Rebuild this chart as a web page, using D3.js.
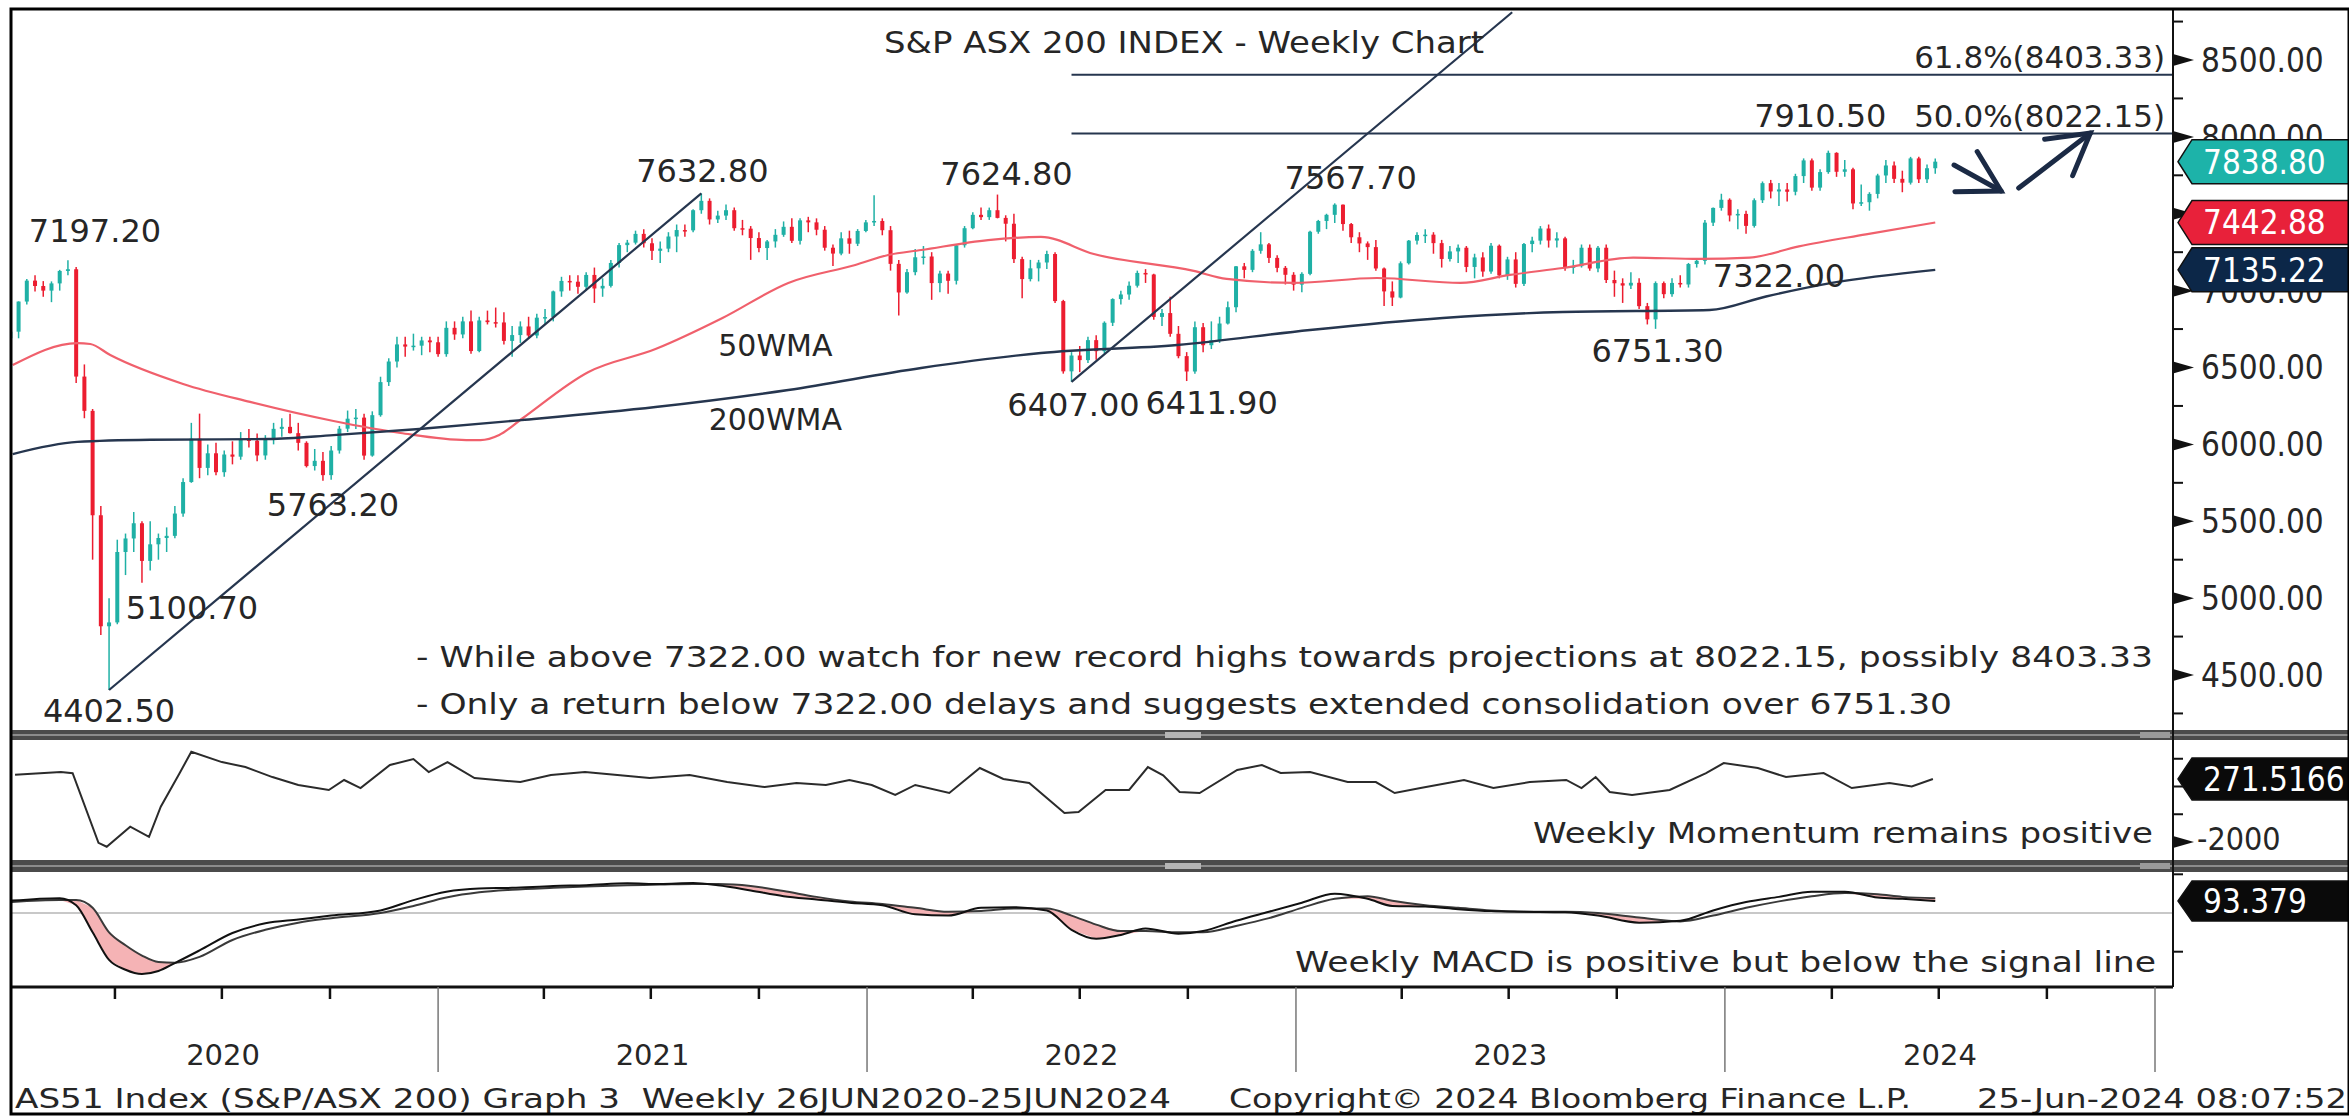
<!DOCTYPE html>
<html lang="en">
<head>
<meta charset="UTF-8">
<title>S&P ASX 200 INDEX - Weekly Chart</title>
<script src="https://d3js.org/d3.v7.min.js"></script>
<style>
  body { margin: 0; background: #fff; }
  svg { display: block; }
  text { font-family: "DejaVu Sans", Verdana, sans-serif; fill: #262626; white-space: pre; }
  text.cond { font-family: "DejaVu Sans Condensed", "Liberation Sans", sans-serif; }
</style>
</head>
<body>
<svg id="chart" width="2349" height="1118"></svg>
<script>
// weekly bars: [week ending, open, high, low, close]
const bars2020 = [
  ["2020-01-03",6690,6740,6680,6733],["2020-01-10",6733,6930,6690,6929],["2020-01-17",6929,7075,6910,7065],
  ["2020-01-24",7065,7100,6995,7030],["2020-01-31",7030,7062,6960,7000],["2020-02-07",7000,7060,6925,7047],
  ["2020-02-14",7047,7135,7000,7128],["2020-02-21",7128,7197.2,7100,7139],["2020-02-28",7139,7153,6400,6441],
  ["2020-03-06",6441,6520,6170,6218],["2020-03-13",6218,6230,5250,5539],["2020-03-20",5539,5600,4760,4817],
  ["2020-03-27",4817,5000,4402.5,4842],["2020-04-03",4842,5380,4830,5300],["2020-04-10",5300,5420,5150,5388],
  ["2020-04-17",5388,5560,5300,5487],["2020-04-24",5487,5500,5100.7,5242],["2020-05-01",5242,5500,5180,5350],
  ["2020-05-08",5350,5420,5250,5391],["2020-05-15",5391,5460,5300,5405],["2020-05-22",5405,5600,5390,5550],
  ["2020-05-29",5550,5780,5530,5755],["2020-06-05",5755,6140,5750,6037],["2020-06-12",6037,6200,5780,5847],
  ["2020-06-19",5847,6000,5800,5942],["2020-06-26",5942,6010,5800,5819],["2020-07-03",5819,5960,5790,5934],
  ["2020-07-10",5934,6020,5870,5920],["2020-07-17",5920,6080,5900,6032],["2020-07-24",6032,6100,5980,6024],
  ["2020-07-31",6024,6070,5890,5928],["2020-08-07",5928,6060,5900,6029],["2020-08-14",6029,6140,6000,6101],
  ["2020-08-21",6101,6170,6050,6114],["2020-08-28",6114,6200,6070,6073],["2020-09-04",6073,6140,5960,6010],
  ["2020-09-11",6010,6020,5850,5859],["2020-09-18",5859,5970,5830,5893],["2020-09-25",5893,5950,5763.2,5800],
  ["2020-10-02",5800,5990,5770,5960],["2020-10-09",5960,6120,5940,6102],["2020-10-16",6102,6220,6080,6167],
  ["2020-10-23",6167,6230,6100,6174],["2020-10-30",6174,6200,5900,5927],["2020-11-06",5927,6215,5920,6190],
  ["2020-11-13",6190,6440,6180,6405],["2020-11-20",6405,6560,6380,6539],["2020-11-27",6539,6700,6500,6650],
  ["2020-12-04",6650,6700,6570,6636],["2020-12-11",6636,6720,6610,6642],["2020-12-18",6642,6700,6580,6676],
  ["2020-12-25",6676,6700,6600,6664]
];
const bars2021 = [
  ["2021-01-01",6664,6700,6570,6587],["2021-01-08",6587,6800,6570,6758],["2021-01-15",6758,6800,6680,6715],
  ["2021-01-22",6715,6830,6690,6800],["2021-01-29",6800,6870,6590,6607],["2021-02-05",6607,6830,6600,6806],
  ["2021-02-12",6806,6870,6780,6795],["2021-02-19",6795,6890,6760,6793],["2021-02-26",6793,6860,6650,6673],
  ["2021-03-05",6673,6770,6570,6711],["2021-03-12",6711,6800,6660,6767],["2021-03-19",6767,6830,6690,6708],
  ["2021-03-26",6708,6850,6690,6824],["2021-04-02",6824,6880,6780,6828],["2021-04-09",6828,7000,6800,6995],
  ["2021-04-16",6995,7090,6960,7063],["2021-04-23",7063,7100,7000,7058],["2021-04-30",7058,7100,6980,7025],
  ["2021-05-07",7025,7120,7000,7102],["2021-05-14",7102,7150,6920,7014],["2021-05-21",7014,7080,6960,7031],
  ["2021-05-28",7031,7200,7020,7180],["2021-06-04",7180,7310,7150,7296],["2021-06-11",7296,7330,7250,7312],
  ["2021-06-18",7312,7390,7300,7369],["2021-06-25",7369,7400,7280,7308],["2021-07-02",7308,7340,7200,7259],
  ["2021-07-09",7259,7320,7180,7273],["2021-07-16",7273,7380,7250,7352],["2021-07-23",7352,7430,7250,7394],
  ["2021-07-30",7394,7430,7350,7392],["2021-08-06",7392,7530,7380,7523],["2021-08-13",7523,7632.8,7500,7584],
  ["2021-08-20",7584,7600,7430,7463],["2021-08-27",7463,7520,7440,7488],["2021-09-03",7488,7560,7460,7523],
  ["2021-09-10",7523,7540,7390,7406],["2021-09-17",7406,7460,7360,7403],["2021-09-24",7403,7420,7200,7342],
  ["2021-10-01",7342,7380,7250,7277],["2021-10-08",7277,7330,7200,7320],["2021-10-15",7320,7400,7280,7363],
  ["2021-10-22",7363,7450,7350,7415],["2021-10-29",7415,7470,7310,7324],["2021-11-05",7324,7470,7300,7457],
  ["2021-11-12",7457,7480,7380,7444],["2021-11-19",7444,7470,7360,7396],["2021-11-26",7396,7420,7260,7279],
  ["2021-12-03",7279,7300,7160,7241],["2021-12-10",7241,7380,7230,7340],["2021-12-17",7340,7390,7240,7305],
  ["2021-12-24",7305,7400,7290,7388],["2021-12-31",7388,7460,7380,7444]
];
const bars2022 = [
  ["2022-01-07",7444,7620,7420,7453],["2022-01-14",7453,7470,7360,7393],["2022-01-21",7393,7420,7130,7174],
  ["2022-01-28",7174,7200,6838,6988],["2022-02-04",6988,7140,6980,7120],["2022-02-11",7120,7270,7100,7217],
  ["2022-02-18",7217,7290,7170,7222],["2022-02-25",7222,7250,6940,7049],["2022-03-04",7049,7130,6990,7111],
  ["2022-03-11",7111,7130,6980,7064],["2022-03-18",7064,7300,7040,7295],["2022-03-25",7295,7420,7280,7406],
  ["2022-04-01",7406,7510,7400,7493],["2022-04-08",7493,7540,7460,7478],["2022-04-15",7478,7540,7460,7523],
  ["2022-04-22",7523,7624.8,7470,7473],["2022-04-29",7473,7490,7320,7435],["2022-05-06",7435,7500,7180,7205],
  ["2022-05-13",7205,7220,6950,7075],["2022-05-20",7075,7200,7060,7145],["2022-05-27",7145,7200,7060,7183],
  ["2022-06-03",7183,7260,7140,7238],["2022-06-10",7238,7250,6920,6932],["2022-06-17",6932,6940,6460,6475],
  ["2022-06-24",6475,6600,6407,6578],["2022-07-01",6578,6640,6470,6548],["2022-07-08",6548,6700,6530,6678],
  ["2022-07-15",6678,6710,6550,6606],["2022-07-22",6606,6800,6590,6791],["2022-07-29",6791,6950,6770,6945],
  ["2022-08-05",6945,7000,6910,6975],["2022-08-12",6975,7060,6940,7032],["2022-08-19",7032,7130,7020,7115],
  ["2022-08-26",7115,7140,7050,7105],["2022-09-02",7105,7110,6810,6829],["2022-09-09",6829,6880,6770,6854],
  ["2022-09-16",6854,6960,6700,6719],["2022-09-23",6719,6770,6560,6574],["2022-09-30",6574,6600,6411.9,6474],
  ["2022-10-07",6474,6800,6460,6762],["2022-10-14",6762,6790,6600,6645],["2022-10-21",6645,6800,6620,6677],
  ["2022-10-28",6677,6830,6660,6786],["2022-11-04",6786,6930,6780,6892],["2022-11-11",6892,7160,6860,7158],
  ["2022-11-18",7158,7180,7080,7135],["2022-11-25",7135,7270,7120,7259],["2022-12-02",7259,7380,7240,7301],
  ["2022-12-09",7301,7310,7180,7213],["2022-12-16",7213,7230,7120,7148],["2022-12-23",7148,7160,7040,7103],
  ["2022-12-30",7103,7120,7000,7039]
];
const bars2023 = [
  ["2023-01-06",7039,7120,6990,7109],["2023-01-13",7109,7390,7100,7383],["2023-01-20",7383,7460,7370,7453],
  ["2023-01-27",7453,7500,7400,7493],["2023-02-03",7493,7567.7,7440,7559],["2023-02-10",7559,7560,7390,7433],
  ["2023-02-17",7433,7440,7310,7347],["2023-02-24",7347,7380,7250,7307],["2023-03-03",7307,7320,7200,7283],
  ["2023-03-10",7283,7330,7130,7144],["2023-03-17",7144,7150,6900,6995],["2023-03-24",6995,7060,6900,6955],
  ["2023-03-31",6955,7190,6950,7178],["2023-04-07",7178,7330,7170,7325],["2023-04-14",7325,7380,7300,7362],
  ["2023-04-21",7362,7400,7310,7364],["2023-04-28",7364,7380,7240,7309],["2023-05-05",7309,7330,7150,7206],
  ["2023-05-12",7206,7290,7190,7255],["2023-05-19",7255,7300,7180,7279],["2023-05-26",7279,7290,7120,7154],
  ["2023-06-02",7154,7240,7080,7216],["2023-06-09",7216,7250,7090,7124],["2023-06-16",7124,7310,7110,7292],
  ["2023-06-23",7292,7300,7080,7099],["2023-06-30",7099,7220,7070,7203],["2023-07-07",7203,7250,7020,7044],
  ["2023-07-14",7044,7310,7030,7303],["2023-07-21",7303,7350,7250,7325],["2023-07-28",7325,7420,7300,7404],
  ["2023-08-04",7404,7430,7280,7326],["2023-08-11",7326,7380,7280,7340],["2023-08-18",7340,7350,7130,7148],
  ["2023-08-25",7148,7200,7110,7159],["2023-09-01",7159,7300,7150,7279],["2023-09-08",7279,7300,7130,7144],
  ["2023-09-15",7144,7290,7120,7279],["2023-09-22",7279,7300,7050,7069],["2023-09-29",7069,7130,6960,7048],
  ["2023-10-06",7048,7080,6920,7033],["2023-10-13",7033,7120,7010,7051],["2023-10-20",7051,7080,6880,6899],
  ["2023-10-27",6899,6920,6780,6813],["2023-11-03",6813,7060,6751.3,7049],["2023-11-10",7049,7060,6950,6977],
  ["2023-11-17",6977,7080,6960,7050],["2023-11-24",7050,7100,7020,7040],["2023-12-01",7040,7180,7020,7173],
  ["2023-12-08",7173,7210,7150,7194],["2023-12-15",7194,7460,7170,7442],["2023-12-22",7442,7540,7420,7538],
  ["2023-12-29",7538,7630,7520,7591]
];
const bars2024 = [
  ["2024-01-05",7591,7600,7450,7489],["2024-01-12",7489,7530,7400,7499],["2024-01-19",7499,7520,7370,7421],
  ["2024-01-26",7421,7600,7410,7588],["2024-02-02",7588,7710,7570,7699],["2024-02-09",7699,7720,7600,7645],
  ["2024-02-16",7645,7700,7550,7658],["2024-02-23",7658,7700,7580,7643],["2024-03-01",7643,7760,7620,7745],
  ["2024-03-08",7745,7860,7700,7847],["2024-03-15",7847,7860,7650,7670],["2024-03-22",7670,7790,7650,7771],
  ["2024-03-29",7771,7910.5,7760,7896],["2024-04-05",7896,7900,7740,7773],["2024-04-12",7773,7850,7740,7789],
  ["2024-04-19",7789,7800,7530,7567],["2024-04-26",7567,7690,7550,7575],["2024-05-03",7575,7640,7520,7629],
  ["2024-05-10",7629,7760,7600,7749],["2024-05-17",7749,7850,7700,7814],["2024-05-24",7814,7840,7700,7727],
  ["2024-05-31",7727,7780,7640,7702],["2024-06-07",7702,7870,7690,7860],["2024-06-14",7860,7870,7700,7724],
  ["2024-06-21",7724,7820,7700,7796],["2024-06-28",7796,7860,7760,7838.8]
];

// moving averages: [date, value]
const ma50 = [
  ["2020-01-05",6516],["2020-02-29",6659],["2020-03-11",6653],["2020-03-28",6581],["2020-05-29",6393],
  ["2020-07-25",6276],["2020-10-04",6152],["2020-11-30",6074],["2021-01-25",6028],["2021-02-06",6028],
  ["2021-02-22",6061],["2021-03-13",6165],["2021-05-09",6471],["2021-07-05",6620],["2021-08-31",6822],
  ["2021-10-26",7050],["2021-12-22",7167],["2022-01-19",7232],["2022-02-16",7264],["2022-04-14",7329],
  ["2022-05-29",7349],["2022-07-13",7238],["2022-10-06",7128],["2022-11-03",7076],["2022-12-30",7050],
  ["2023-03-11",7082],["2023-05-21",7050],["2023-07-02",7102],["2023-08-16",7147],["2023-10-15",7215],
  ["2023-12-10",7206],["2024-01-22",7215],["2024-03-04",7288],["2024-04-30",7366],["2024-06-28",7442.88]
];
const ma200 = [
  ["2020-01-05",5937],["2020-02-29",6016],["2020-05-01",6030],["2020-08-10",6035],["2020-10-04",6060],
  ["2020-12-16",6100],["2021-03-13",6158],["2021-07-05",6243],["2021-10-26",6354],["2022-02-16",6497],
  ["2022-05-29",6594],["2022-09-22",6646],["2023-01-13",6744],["2023-05-06",6822],["2023-08-16",6861],
  ["2023-12-19",6874],["2024-02-05",6962],["2024-04-01",7050],["2024-06-28",7135.22]
];

// weekly momentum: [date, value]
const momentum = [
  ["2020-01-07",420],["2020-02-15",520],["2020-02-25",480],["2020-03-18",-2030],["2020-03-25",-2170],
  ["2020-04-14",-1450],["2020-04-30",-1815],["2020-05-10",-730],["2020-05-26",480],["2020-06-05",1250],
  ["2020-07-01",880],["2020-07-21",700],["2020-08-13",340],["2020-09-04",55],["2020-09-30",-125],
  ["2020-10-13",235],["2020-10-27",-55],["2020-11-21",775],["2020-12-11",990],["2020-12-24",520],
  ["2021-01-09",880],["2021-02-01",305],["2021-03-12",160],["2021-04-07",415],["2021-05-06",520],
  ["2021-05-29",430],["2021-06-30",305],["2021-08-03",415],["2021-09-04",160],["2021-10-06",-20],
  ["2021-11-02",125],["2021-11-27",55],["2021-12-17",235],["2022-01-05",55],["2022-01-25",-305],
  ["2022-02-11",55],["2022-03-12",-235],["2022-04-07",665],["2022-04-27",270],["2022-05-19",125],
  ["2022-06-18",-955],["2022-06-30",-920],["2022-07-23",-125],["2022-08-12",-125],["2022-08-28",700],
  ["2022-09-10",400],["2022-09-24",-200],["2022-10-11",-235],["2022-11-12",595],["2022-12-03",775],
  ["2022-12-19",485],["2023-01-13",520],["2023-02-14",160],["2023-03-10",160],["2023-03-26",-235],
  ["2023-04-17",-55],["2023-05-24",235],["2023-06-18",-55],["2023-07-19",160],["2023-08-19",235],
  ["2023-09-01",-55],["2023-09-13",340],["2023-09-25",-200],["2023-10-14",-305],["2023-11-15",-125],
  ["2023-12-16",485],["2023-12-31",845],["2024-01-29",665],["2024-02-22",340],["2024-03-25",485],
  ["2024-04-18",-55],["2024-05-20",125],["2024-06-08",0],["2024-06-26",271.5166]
];

// weekly MACD: [date, macd, signal]
const macd = [
  ["2020-01-03",95,85],["2020-02-14",115,100],["2020-02-28",60,100],["2020-03-13",-150,40],
  ["2020-03-27",-364,-150],["2020-04-10",-440,-250],["2020-04-24",-473,-330],["2020-05-08",-450,-380],
  ["2020-05-22",-388,-385],["2020-06-12",-290,-340],["2020-07-10",-155,-209],["2020-08-07",-80,-130],
  ["2020-09-04",-50,-75],["2020-10-02",-20,-40],["2020-11-13",20,0],["2020-12-11",100,55],
  ["2021-01-08",165,120],["2021-02-05",190,160],["2021-03-05",195,180],["2021-04-09",210,195],
  ["2021-05-07",215,205],["2021-06-11",230,215],["2021-07-09",225,220],["2021-08-06",232,225],
  ["2021-08-27",215,225],["2021-09-24",175,210],["2021-10-22",130,170],["2021-11-19",105,125],
  ["2021-12-17",80,90],["2022-01-14",60,70],["2022-02-11",-10,40],["2022-03-11",-20,10],
  ["2022-04-08",40,15],["2022-05-06",45,35],["2022-06-03",20,35],["2022-06-24",-130,-20],
  ["2022-07-15",-200,-90],["2022-08-05",-170,-140],["2022-08-26",-120,-140],["2022-09-23",-160,-150],
  ["2022-10-14",-140,-150],["2022-11-11",-60,-100],["2022-12-09",10,-40],["2023-01-06",80,40],
  ["2023-02-03",150,110],["2023-03-03",110,130],["2023-03-24",55,95],["2023-04-21",50,60],
  ["2023-05-19",30,40],["2023-06-16",15,20],["2023-07-14",10,10],["2023-08-18",5,10],
  ["2023-09-15",-20,0],["2023-10-20",-75,-35],["2023-11-24",-60,-65],["2023-12-22",20,-20],
  ["2024-01-19",85,40],["2024-02-16",125,90],["2024-03-15",165,130],["2024-04-12",165,155],
  ["2024-05-10",120,145],["2024-05-31",110,125],["2024-06-28",93.379,115]
];

// trend line (swing low -> swing high) and the parallel projection from the 2022 low
const trendLine = [["2020-03-27",4402.5],["2021-08-13",7632.8]];
const projectionStart = ["2022-06-24",6407.0];
const projectionEndDate = "2023-07-04";
const fibLevels = [[8403.33,"61.8%(8403.33)"],[8022.15,"50.0%(8022.15)"]];

const priceLabels = [
  ["7197.20","2020-02-21",7197.2,27,-30],["7632.80","2021-08-13",7632.8,1,-23],
  ["7624.80","2022-04-22",7624.8,9,-21],["7567.70","2023-02-03",7567.7,16,-26],
  ["7910.50","2024-03-29",7910.5,-8,-35],["5763.20","2020-09-25",5763.2,10,24],
  ["5100.70","2020-04-24",5100.7,50,25],["4402.50","2020-03-27",4402.5,0,20],
  ["6407.00","2022-06-24",6407.0,2,23],["6411.90","2022-09-30",6411.9,25,21],
  ["6751.30","2023-11-03",6751.3,2,22],["7322.00","2024-02-16",7322.0,0,34]
];
const maLabels = [["50WMA","2021-10-15",6646],["200WMA","2021-10-15",6165]];
const arrows = [
  [["2024-07-14",7817],["2024-08-23",7648]],
  [["2024-09-07",7667],["2024-11-07",8025]]
];
const lastValues = [
  [7838.80,"7838.80","#1db3a9"],[7442.88,"7442.88","#e8213a"],[7135.22,"7135.22","#0c2748"]
];
const priceTicks = [4500,5000,5500,6000,6500,7000,7500,8000,8500];
const priceMinor = [4250,4750,5250,5750,6250,6750,7250,7750,8250,8750];
const momTicks = [1000,0,-1000];
const macdTicks = [300,-300];
const years = ["2020","2021","2022","2023","2024"];

// ---- layout ----
const W = 2349, H = 1118;
const plotL = 12, axisX = 2173;
const mainTop = 10, mainBot = 730, momTop = 740, momBot = 860, macdTop = 872, macdBot = 987;
const navy = "#26364f", teal = "#1fb0a5", red = "#ec1d30";

const parse = d3.timeParse("%Y-%m-%d");
const x = d3.scaleTime().domain([parse("2020-01-01"), parse("2025-01-01")]).range([8, 2155]);
const yP = d3.scaleLinear().domain([4500, 8500]).range([675, 60]);
const yM = d3.scaleLinear().domain([-2000, 0]).range([842, 786.5]);
const yD = d3.scaleLinear().domain([-500, 0]).range([977.5, 913]);

const bars = [...bars2020, ...bars2021, ...bars2022, ...bars2023, ...bars2024]
  .map(([d, o, h, l, c]) => ({ date: parse(d), o, h, l, c }));

const svg = d3.select("#chart");
const defs = svg.append("defs");
function addClip(id, y0, y1) {
  defs.append("clipPath").attr("id", id).append("rect")
    .attr("x", plotL).attr("y", y0).attr("width", axisX - plotL).attr("height", y1 - y0);
}
addClip("clipMain", mainTop, mainBot);
addClip("clipMom", momTop, momBot);
addClip("clipMacd", macdTop, macdBot);

defs.append("marker").attr("id", "head").attr("markerUnits", "userSpaceOnUse")
  .attr("viewBox", "-46 -28 52 56").attr("refX", 0).attr("refY", 0)
  .attr("markerWidth", 52).attr("markerHeight", 56).attr("orient", "auto")
  .append("path").attr("d", "M-40,-23 L0,0 L-40,23")
  .attr("fill", "none").attr("stroke", "#1b2a45").attr("stroke-width", 5).attr("stroke-linecap", "round");

svg.append("rect").attr("width", W).attr("height", H).attr("fill", "#fff");

// ---- main panel ----
const main = svg.append("g").attr("clip-path", "url(#clipMain)");

const candles = main.append("g").selectAll("g").data(bars).join("g");
candles.append("line")
  .attr("x1", d => x(d.date)).attr("x2", d => x(d.date))
  .attr("y1", d => yP(d.h)).attr("y2", d => yP(d.l))
  .attr("stroke", d => d.c >= d.o ? teal : red).attr("stroke-width", 1.5);
candles.append("rect")
  .attr("x", d => x(d.date) - 2).attr("width", 4)
  .attr("y", d => yP(Math.max(d.o, d.c)))
  .attr("height", d => Math.max(1.5, Math.abs(yP(d.o) - yP(d.c))))
  .attr("fill", d => d.c >= d.o ? teal : red);

const lineP = d3.line().x(d => x(parse(d[0]))).y(d => yP(d[1])).curve(d3.curveMonotoneX);
main.append("path").attr("d", lineP(ma50)).attr("fill", "none").attr("stroke", "#f0606c").attr("stroke-width", 2.2);
main.append("path").attr("d", lineP(ma200)).attr("fill", "none").attr("stroke", navy).attr("stroke-width", 2.4);

// fibonacci projection levels
fibLevels.forEach(([v]) => {
  main.append("line").attr("x1", x(parse(projectionStart[0]))).attr("x2", axisX)
    .attr("y1", yP(v)).attr("y2", yP(v)).attr("stroke", navy).attr("stroke-width", 2);
});

// trend line and parallel projection
const t0 = parse(trendLine[0][0]), t1 = parse(trendLine[1][0]);
const slope = (trendLine[1][1] - trendLine[0][1]) / (t1 - t0);
const p0 = parse(projectionStart[0]), p1 = parse(projectionEndDate);
[[t0, trendLine[0][1], t1, trendLine[1][1]],
 [p0, projectionStart[1], p1, projectionStart[1] + slope * (p1 - p0)]].forEach(([a, av, b, bv]) => {
  main.append("line").attr("x1", x(a)).attr("y1", yP(av)).attr("x2", x(b)).attr("y2", yP(bv))
    .attr("stroke", navy).attr("stroke-width", 2.2);
});

// forecast arrows
arrows.forEach(([a, b]) => {
  main.append("line").attr("x1", x(parse(a[0]))).attr("y1", yP(a[1]))
    .attr("x2", x(parse(b[0]))).attr("y2", yP(b[1]))
    .attr("stroke", "#1b2a45").attr("stroke-width", 5).attr("stroke-linecap", "round")
    .attr("marker-end", "url(#head)");
});

// labels
svg.append("g").selectAll("text").data(priceLabels).join("text")
  .attr("x", d => x(parse(d[1])) + d[3]).attr("y", d => yP(d[2]) + d[4])
  .attr("dy", "0.36em").attr("text-anchor", "middle").attr("font-size", 32).text(d => d[0]);
svg.append("g").selectAll("text").data(maLabels).join("text")
  .attr("x", d => x(parse(d[1]))).attr("y", d => yP(d[2]))
  .attr("dy", "0.36em").attr("text-anchor", "middle").attr("font-size", 30).text(d => d[0]);
fibLevels.forEach(([v, label]) => {
  svg.append("text").attr("x", axisX - 8).attr("y", yP(v) - 18).attr("dy", "0.36em")
    .attr("text-anchor", "end").attr("font-size", 31).text(label);
});

function note(str, xPos, yPos, size, len, anchor) {
  const t = svg.append("text").attr("x", xPos).attr("y", yPos).attr("dy", "0.36em")
    .attr("font-size", size).attr("text-anchor", anchor || "start").text(str);
  if (len) t.attr("textLength", len).attr("lengthAdjust", "spacingAndGlyphs");
  return t;
}
note("S&P ASX 200 INDEX - Weekly Chart", 884, 42, 31, 600);
note("- While above 7322.00 watch for new record highs towards projections at 8022.15, possibly 8403.33", 416, 657, 29, 1737);
note("- Only a return below 7322.00 delays and suggests extended consolidation over 6751.30", 416, 704, 29, 1536);

// ---- momentum panel ----
const mom = svg.append("g").attr("clip-path", "url(#clipMom)");
mom.append("path")
  .attr("d", d3.line().x(d => x(parse(d[0]))).y(d => yM(d[1]))(momentum))
  .attr("fill", "none").attr("stroke", "#2b2b2b").attr("stroke-width", 2);
note("Weekly Momentum remains positive", 1533, 833, 28, 620);

// ---- MACD panel ----
const mac = svg.append("g").attr("clip-path", "url(#clipMacd)");
mac.append("line").attr("x1", plotL).attr("x2", axisX).attr("y1", yD(0)).attr("y2", yD(0))
  .attr("stroke", "#c8c8c8").attr("stroke-width", 2);
mac.append("path")
  .attr("d", d3.area().x(d => x(parse(d[0]))).y0(d => yD(d[2])).y1(d => yD(Math.min(d[1], d[2])))(macd))
  .attr("fill", "#f5b3b5").attr("stroke", "none");
[2, 1].forEach(k => {
  mac.append("path")
    .attr("d", d3.line().x(d => x(parse(d[0]))).y(d => yD(d[k])).curve(d3.curveMonotoneX)(macd))
    .attr("fill", "none").attr("stroke", k === 1 ? "#111" : "#3a3a3a").attr("stroke-width", 2);
});
note("Weekly MACD is positive but below the signal line", 1295, 962, 28, 861);

// ---- panel separators ----
[[730, 740], [860, 872]].forEach(([a, b]) => {
  svg.append("rect").attr("x", 11).attr("y", a).attr("width", W - 11).attr("height", b - a).attr("fill", "#4b4b4b");
  svg.append("line").attr("x1", 11).attr("x2", W).attr("y1", (a + b) / 2).attr("y2", (a + b) / 2)
    .attr("stroke", "#8c8c8c").attr("stroke-width", 2);
  svg.append("rect").attr("x", 1165).attr("y", (a + b) / 2 - 3).attr("width", 36).attr("height", 6).attr("fill", "#b5b5b5");
  svg.append("rect").attr("x", 2140).attr("y", (a + b) / 2 - 3).attr("width", 30).attr("height", 6).attr("fill", "#9a9a9a");
});

// ---- right axis ----
svg.append("line").attr("x1", axisX).attr("x2", axisX).attr("y1", mainTop).attr("y2", macdBot)
  .attr("stroke", "#111").attr("stroke-width", 2);
function majorTick(yy) {
  svg.append("path").attr("d", `M${axisX},${yy - 6}L${axisX + 21},${yy}L${axisX},${yy + 6}Z`).attr("fill", "#111");
}
function minorTick(yy) {
  svg.append("line").attr("x1", axisX).attr("x2", axisX + 10).attr("y1", yy).attr("y2", yy)
    .attr("stroke", "#111").attr("stroke-width", 2);
}
priceMinor.forEach(v => { if (yP(v) > mainTop && yP(v) < mainBot) minorTick(yP(v)); });
priceTicks.forEach(v => {
  majorTick(yP(v));
  if (v !== 7500) {
    svg.append("text").attr("class", "cond").attr("x", axisX + 28).attr("y", yP(v)).attr("dy", "0.36em")
      .attr("font-size", 33).text(d3.format(".2f")(v));
  }
});
momTicks.forEach(v => minorTick(yM(v)));
majorTick(yM(-2000));
svg.append("text").attr("class", "cond").attr("x", axisX + 24).attr("y", yM(-2000) - 4).attr("dy", "0.36em")
  .attr("font-size", 32).text("-2000");
macdTicks.forEach(v => minorTick(yD(v)));

function tag(yy, label, fill, h) {
  const x0 = axisX + 5;
  svg.append("path")
    .attr("d", `M${x0},${yy}L${x0 + 14},${yy - h / 2}L${W + 5},${yy - h / 2}L${W + 5},${yy + h / 2}L${x0 + 14},${yy + h / 2}Z`)
    .attr("fill", fill).attr("stroke", "#111").attr("stroke-width", 1.5);
  svg.append("text").attr("class", "cond").attr("x", axisX + 30).attr("y", yy).attr("dy", "0.36em")
    .attr("font-size", 33).style("fill", "#fff").text(label);
}
lastValues.forEach(([v, label, fill]) => tag(yP(v), label, fill, 44));
tag(yM(momentum[momentum.length - 1][1]), "271.5166", "#0a0a0a", 42);
tag(yD(macd[macd.length - 1][1]), "93.379", "#0a0a0a", 40);

// ---- time axis ----
svg.append("line").attr("x1", 11).attr("x2", axisX).attr("y1", macdBot).attr("y2", macdBot)
  .attr("stroke", "#111").attr("stroke-width", 3);
x.ticks(d3.timeMonth.every(3)).filter(d => d.getMonth() !== 0).forEach(d => {
  svg.append("line").attr("x1", x(d)).attr("x2", x(d)).attr("y1", macdBot).attr("y2", macdBot + 12)
    .attr("stroke", "#111").attr("stroke-width", 2.5);
});
years.forEach(yr => {
  const a = parse(yr + "-01-01"), b = parse((+yr + 1) + "-01-01");
  svg.append("line").attr("x1", x(b)).attr("x2", x(b)).attr("y1", macdBot).attr("y2", 1072)
    .attr("stroke", "#777").attr("stroke-width", 1.5);
  svg.append("text").attr("x", (x(a) + x(b)) / 2).attr("y", 1055).attr("dy", "0.36em")
    .attr("text-anchor", "middle").attr("font-size", 29).text(yr);
});

note("AS51 Index (S&P/ASX 200) Graph 3  Weekly 26JUN2020-25JUN2024", 15, 1099, 26, 1156).attr("xml:space", "preserve");
note("Copyright\u00a9 2024 Bloomberg Finance L.P.", 1229, 1099, 26, 682);
note("25-Jun-2024 08:07:52", 1977, 1099, 26, 370);

// outer frame
svg.append("rect").attr("x", 11).attr("y", 9).attr("width", W - 11).attr("height", 1105)
  .attr("fill", "none").attr("stroke", "#000").attr("stroke-width", 3);
</script>
</body>
</html>
